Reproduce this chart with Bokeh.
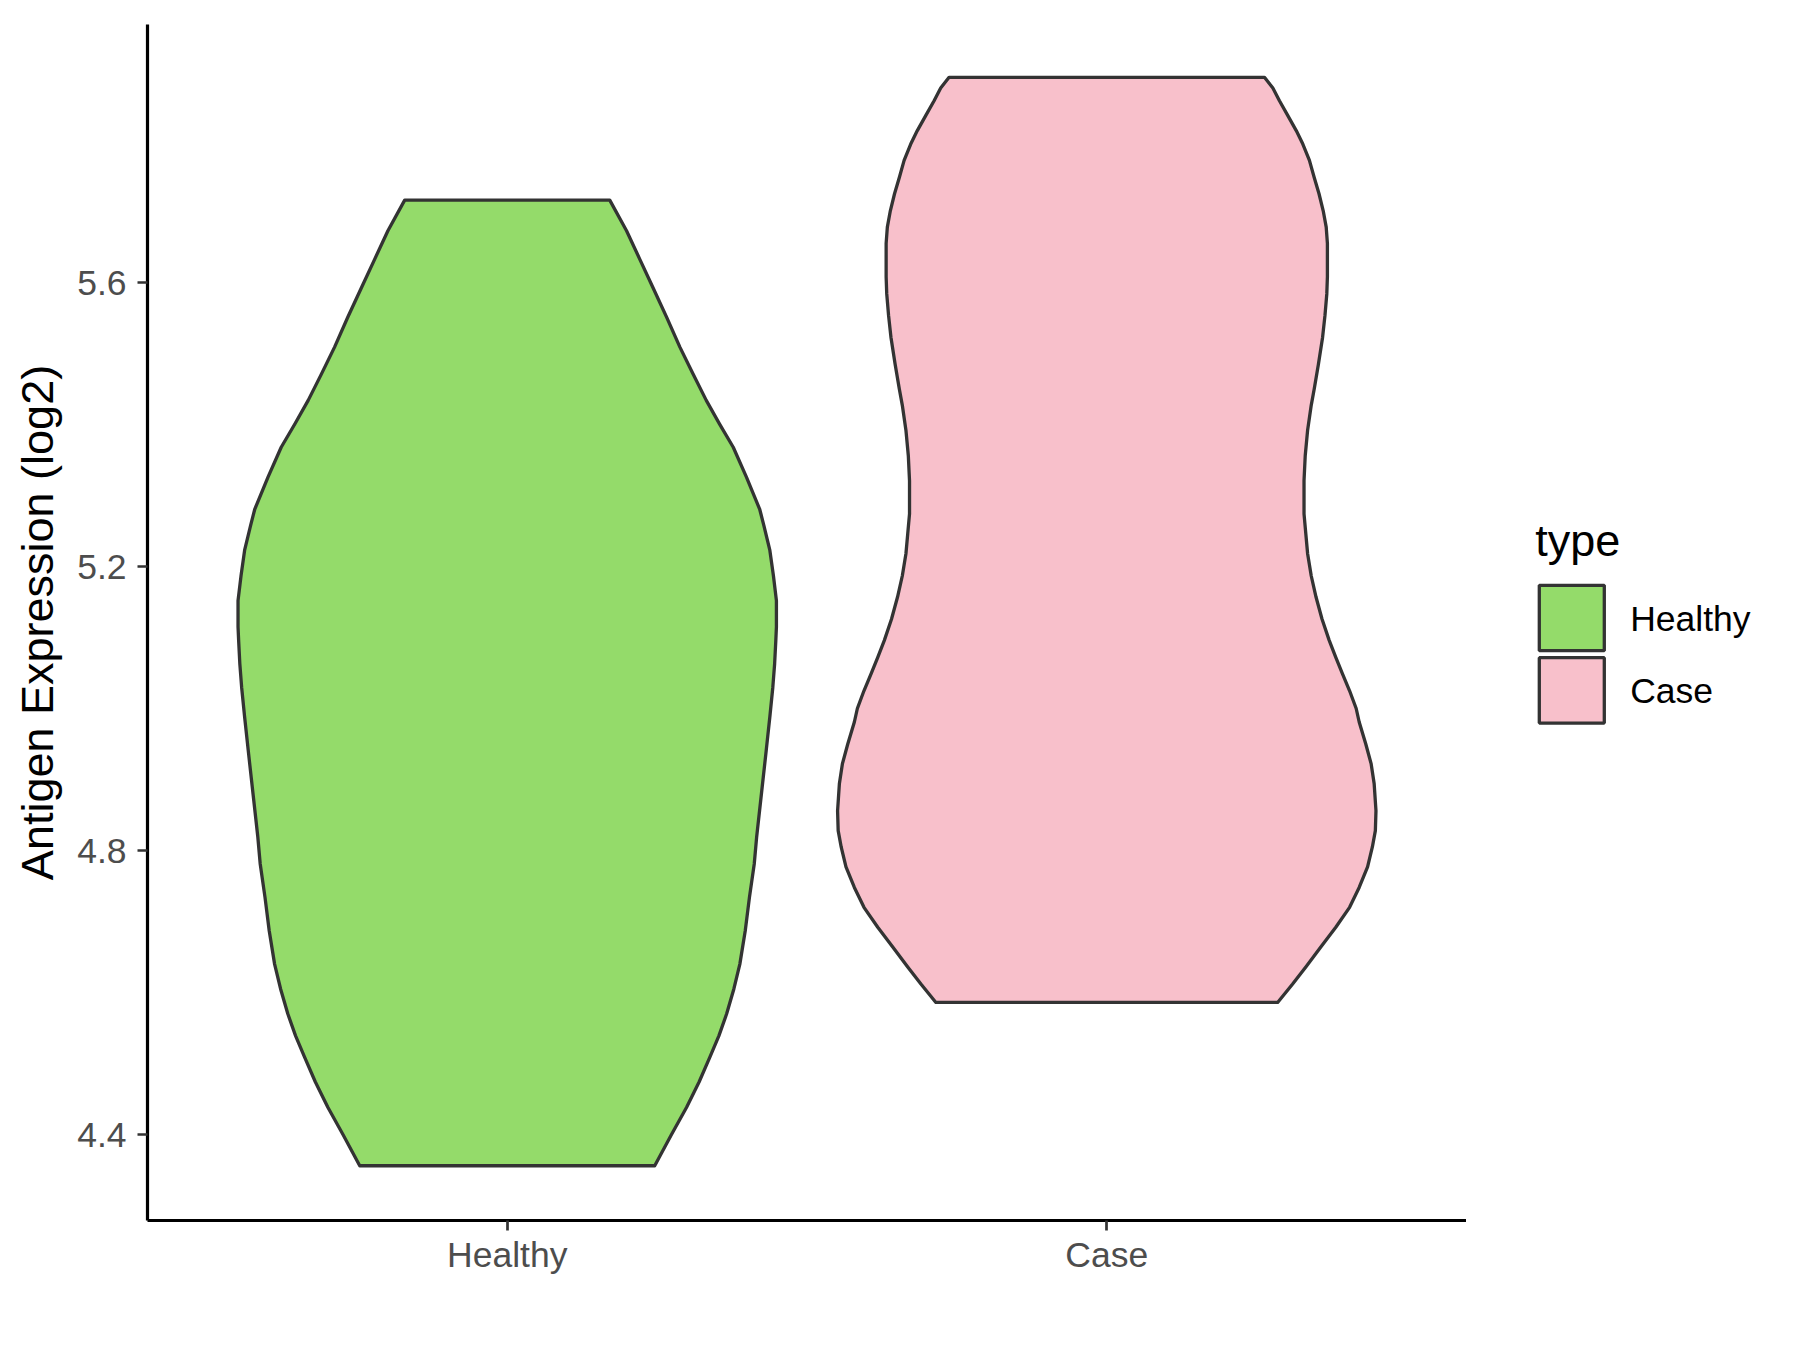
from bokeh.plotting import figure
from bokeh.models import Range1d, FixedTicker
from bokeh.layouts import row
from bokeh.core.properties import value
from bokeh.embed import file_html
from bokeh.resources import INLINE

# ---- data ----
categories = ["Healthy", "Case"]
positions = [1, 2]
y_ticks = [4.4, 4.8, 5.2, 5.6]
fill_colors = ["#94DB6A", "#F8C0CB"]
legend_title = "type"

healthy_y = [5.716, 5.673, 5.633, 5.593, 5.551, 5.509, 5.471, 5.434, 5.401, 5.368,
             5.326, 5.281, 5.258, 5.223, 5.187, 5.152, 5.115, 5.096, 5.063, 5.030,
             4.988, 4.941, 4.880, 4.819, 4.781, 4.734, 4.687, 4.640, 4.605, 4.570,
             4.539, 4.509, 4.474, 4.438, 4.400, 4.356]
healthy_hw = [0.171, 0.199, 0.221, 0.243, 0.266, 0.288, 0.310, 0.332, 0.354, 0.377,
              0.399, 0.421, 0.428, 0.438, 0.444, 0.449, 0.449, 0.448, 0.446, 0.443,
              0.438, 0.432, 0.424, 0.416, 0.412, 0.404, 0.397, 0.388, 0.378, 0.366,
              0.353, 0.338, 0.320, 0.299, 0.274, 0.246]

case_y = [5.889, 5.874, 5.856, 5.835, 5.814, 5.795, 5.772, 5.748, 5.725, 5.701,
          5.678, 5.655, 5.631, 5.608, 5.584, 5.554, 5.523, 5.485, 5.450, 5.427,
          5.392, 5.356, 5.321, 5.298, 5.274, 5.246, 5.218, 5.187, 5.157, 5.126,
          5.096, 5.072, 5.049, 5.025, 5.000, 4.981, 4.950, 4.922, 4.894, 4.856,
          4.828, 4.805, 4.777, 4.748, 4.720, 4.692, 4.664, 4.636, 4.612, 4.586]
case_hw = [0.263, 0.277, 0.288, 0.302, 0.316, 0.327, 0.338, 0.346, 0.354, 0.361,
           0.366, 0.368, 0.368, 0.368, 0.367, 0.364, 0.360, 0.353, 0.346, 0.341,
           0.335, 0.331, 0.329, 0.329, 0.329, 0.332, 0.335, 0.341, 0.349, 0.359,
           0.371, 0.382, 0.393, 0.405, 0.416, 0.421, 0.432, 0.441, 0.446, 0.449,
           0.448, 0.443, 0.435, 0.421, 0.405, 0.382, 0.357, 0.332, 0.310, 0.285]

profiles = [(healthy_y, healthy_hw), (case_y, case_hw)]

FONT = "Liberation Sans"
OUTLINE = "#333333"

# ---- main plot ----
p = figure(frame_width=1319, frame_height=1196,
           min_border_left=147, min_border_right=0,
           min_border_top=24, min_border_bottom=114,
           x_range=Range1d(0.4, 2.6), y_range=Range1d(4.2789, 5.9634),
           output_backend="svg", toolbar_location=None, tools="")

p.background_fill_color = "white"
p.border_fill_color = "white"
p.outline_line_color = None
p.xgrid.visible = False
p.ygrid.visible = False

for pos, (ys, hws), col in zip(positions, profiles, fill_colors):
    xs = [pos - h for h in hws] + [pos + h for h in hws][::-1]
    yy = list(ys) + list(ys)[::-1]
    p.patch(xs, yy, fill_color=col, line_color=OUTLINE, line_width=3.3,
            line_join="round")

p.xaxis.ticker = FixedTicker(ticks=positions)
p.xaxis.major_label_overrides = {pos: c for pos, c in zip(positions, categories)}
p.yaxis.ticker = FixedTicker(ticks=y_ticks)
p.yaxis.major_label_overrides = {t: f"{t:.1f}" for t in y_ticks}

for ax in (p.xaxis[0], p.yaxis[0]):
    ax.axis_line_color = "black"
    ax.axis_line_width = 3.2
    ax.major_tick_line_color = OUTLINE
    ax.major_tick_line_width = 2.7
    ax.major_tick_out = 10
    ax.major_tick_in = 0
    ax.minor_tick_line_color = None
    ax.major_label_text_font = FONT
    ax.major_label_text_font_size = "35.5px"
    ax.major_label_text_color = "#4D4D4D"
p.yaxis.major_label_standoff = 11
p.xaxis.major_label_standoff = 4

p.yaxis.axis_label = "Antigen Expression (log2)"
p.yaxis.axis_label_text_font = FONT
p.yaxis.axis_label_text_font_size = "45px"
p.yaxis.axis_label_text_font_style = "normal"
p.yaxis.axis_label_text_color = "black"
p.yaxis.axis_label_standoff = 11

# ---- legend panel (pixel-unit coordinates, y downward) ----
lg = figure(frame_width=318, frame_height=1334,
            min_border_left=0, min_border_right=0, min_border_top=0, min_border_bottom=0,
            x_range=Range1d(1466, 1784), y_range=Range1d(1334, 0),
            x_axis_type=None, y_axis_type=None,
            output_backend="svg", toolbar_location=None, tools="")
lg.outline_line_color = None
lg.background_fill_color = "white"
lg.border_fill_color = "white"
lg.xgrid.visible = False
lg.ygrid.visible = False

key_left, key_right = 1538.8, 1603.8
key_tops = [560.8, 633.2]
key_h = 65.4
lg.quad(left=[key_left] * 2, right=[key_right] * 2,
        top=key_tops, bottom=[t + key_h for t in key_tops],
        fill_color=fill_colors, line_color=OUTLINE, line_width=3.3)
lg.text(x=[1534.7], y=[516.3], text=[legend_title],
        text_font=value(FONT), text_font_size="45px", text_color="black",
        text_baseline="alphabetic", text_align="left")
lg.text(x=[1629.7] * 2, y=[594.0, 666.0], text=categories,
        text_font=value(FONT), text_font_size="35.5px", text_color="black",
        text_baseline="alphabetic", text_align="left")

layout = row(p, lg)
open("out.html", "w").write(file_html(layout, INLINE))
